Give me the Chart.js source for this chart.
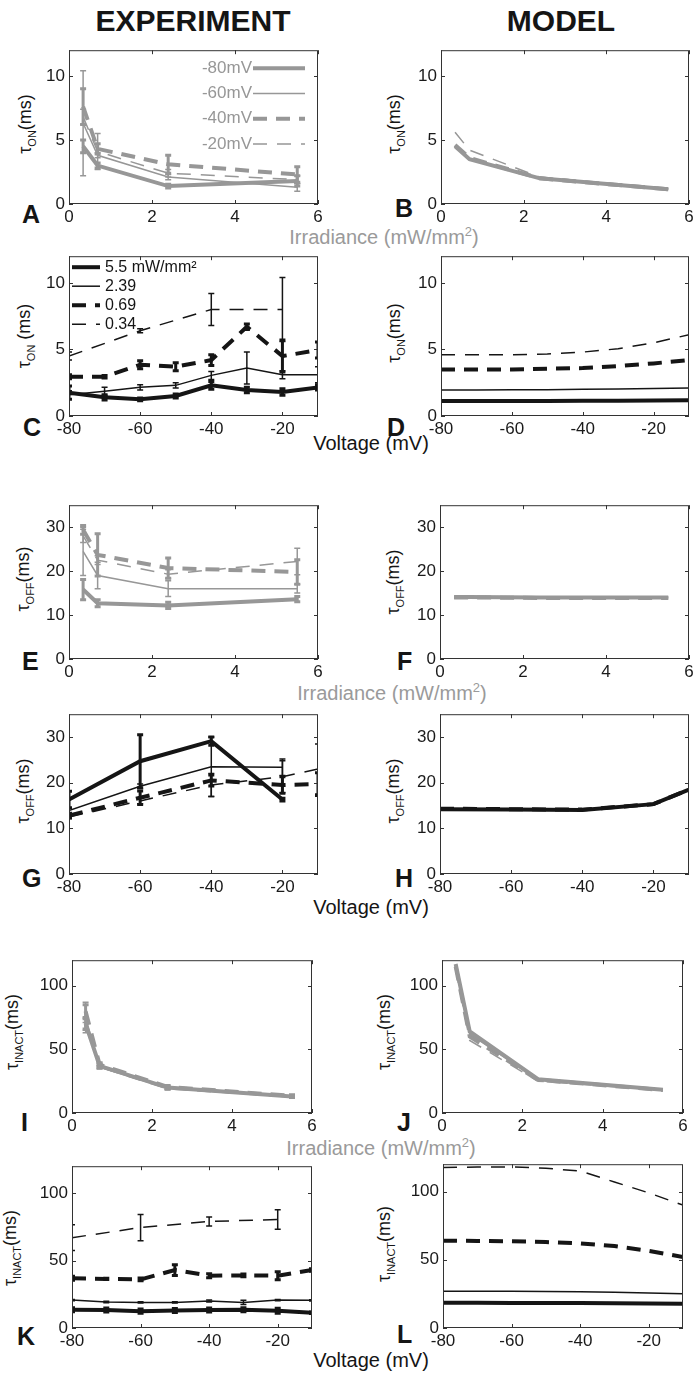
<!DOCTYPE html>
<html>
<head>
<meta charset="utf-8">
<script src="https://cdn.jsdelivr.net/npm/chart.js@4.4.1/dist/chart.umd.min.js"></script>
<style>
body{margin:0;background:#fff;width:698px;height:1376px;position:relative;overflow:hidden;font-family:'Liberation Sans',Arial,sans-serif;color:#151515}
canvas{position:absolute}
.t{position:absolute;white-space:nowrap;line-height:1}
.hd{font-weight:bold;font-size:30px;transform:translateX(-50%)}
.lt{font-weight:bold;font-size:25px}
.yt{font-size:18px;transform:translate(-50%,-50%) rotate(-90deg)}
.yt sub{font-size:11px}
.xl{font-size:20px;transform:translate(-50%,-50%)}
.gr{color:#9a9a9a}
</style>
</head>
<body>
<div class="t hd" style="left:193px;top:6px">EXPERIMENT</div>
<div class="t hd" style="left:561px;top:6px">MODEL</div>

<div class="t lt" style="left:22px;top:202px">A</div>
<div class="t lt" style="left:395px;top:196px">B</div>
<div class="t lt" style="left:23px;top:415px">C</div>
<div class="t lt" style="left:387px;top:415px">D</div>
<div class="t lt" style="left:22px;top:649px">E</div>
<div class="t lt" style="left:397px;top:649px">F</div>
<div class="t lt" style="left:22px;top:866px">G</div>
<div class="t lt" style="left:395px;top:866px">H</div>
<div class="t lt" style="left:21px;top:1110px">I</div>
<div class="t lt" style="left:397px;top:1110px">J</div>
<div class="t lt" style="left:17px;top:1324px">K</div>
<div class="t lt" style="left:397px;top:1322px">L</div>

<div class="t yt" style="left:27px;top:124px">τ<sub>ON</sub>(ms)</div>
<div class="t yt" style="left:396px;top:124px">τ<sub>ON</sub>(ms)</div>
<div class="t yt" style="left:26px;top:336px">τ<sub>ON</sub> (ms)</div>
<div class="t yt" style="left:396px;top:333px">τ<sub>ON</sub>(ms)</div>
<div class="t yt" style="left:25px;top:579px">τ<sub>OFF</sub>(ms)</div>
<div class="t yt" style="left:395px;top:582px">τ<sub>OFF</sub>(ms)</div>
<div class="t yt" style="left:25px;top:791px">τ<sub>OFF</sub>(ms)</div>
<div class="t yt" style="left:395px;top:791px">τ<sub>OFF</sub>(ms)</div>
<div class="t yt" style="left:14px;top:1032px">τ<sub>INACT</sub>(ms)</div>
<div class="t yt" style="left:386px;top:1032px">τ<sub>INACT</sub>(ms)</div>
<div class="t yt" style="left:12px;top:1248px">τ<sub>INACT</sub>(ms)</div>
<div class="t yt" style="left:386px;top:1244px">τ<sub>INACT</sub>(ms)</div>

<div class="t xl gr" style="left:384px;top:236px">Irradiance (mW/mm<sup style="font-size:13px">2</sup>)</div>
<div class="t xl gr" style="left:392px;top:692px">Irradiance (mW/mm<sup style="font-size:13px">2</sup>)</div>
<div class="t xl gr" style="left:381px;top:1147px">Irradiance (mW/mm<sup style="font-size:13px">2</sup>)</div>
<div class="t xl" style="left:371px;top:443px">Voltage (mV)</div>
<div class="t xl" style="left:371px;top:907px">Voltage (mV)</div>
<div class="t xl" style="left:371px;top:1360px">Voltage (mV)</div>

<script>
// x values
var irr = [0.34, 0.69, 2.39, 5.5];
var volt = [-80, -70, -60, -50, -40, -30, -20, -10];
var volt4 = [-80, -60, -40, -20];
var volt5 = [-80, -60, -40, -20, -10];
var irrTicks = [0, 2, 4, 6];
var voltTicks = [-80, -60, -40, -20];
var onTicks = [0, 5, 10];
var offTicks = [0, 10, 20, 30];
var inactTicks = [0, 50, 100];
var holdNames = ['-80mV', '-60mV', '-40mV', '-20mV'];
var irrNames = ['5.5 mW/mm²', '2.39', '0.69', '0.34'];

// A - tau on vs irradiance (experiment)
var aOn80 = [4.5, 3.0, 1.4, 1.8], aErr80 = [0.5, 0.2, 0.15, 0.4];
var aOn60 = [6.3, 3.8, 2.1, 1.3], aErr60 = [4.1, 0.2, 0.2, 0.3];
var aOn40 = [7.6, 4.3, 3.1, 2.3], aErr40 = [1.4, 0.4, 0.7, 0.6];
var aOn20 = [6.8, 4.1, 2.4, 1.9], aErr20 = [0.6, 1.4, 0.3, 0.3];
// B - model
var bOn80 = [4.5, 3.5, 2.0, 1.15];
var bOn60 = [4.5, 3.5, 2.0, 1.15];
var bOn40 = [4.6, 3.6, 2.0, 1.15];
var bOn20 = [5.6, 4.2, 2.1, 1.2];
// C - tau on vs voltage (experiment)
var cOn55 = [1.75, 1.4, 1.25, 1.5, 2.3, 1.95, 1.8, 2.15], cErr55 = [0.5, 0.2, 0.1, 0.15, 0.3, 0.2, 0.25, 0.2];
var cOn239 = [1.6, 1.85, 2.15, 2.3, 3.05, 3.6, 3.1, 3.1], cErr239 = [0.3, 0.3, 0.2, 0.2, 0.3, 1.2, 0.3, 0.6];
var cOn069 = [2.95, 2.95, 3.85, 3.7, 4.2, 6.7, 4.5, 4.95], cErr069 = [0.15, 0.1, 0.3, 0.3, 0.4, 0.2, 1.2, 0.6];
var cOn034 = [4.5, 6.4, 8.0, 8.0], cErr034 = [0.3, 0.15, 1.2, 2.4];
// D - model
var dOn55 = [1.12, 1.12, 1.13, 1.13, 1.14, 1.15, 1.16, 1.18];
var dOn239 = [1.95, 1.96, 1.97, 1.98, 2.0, 2.03, 2.06, 2.1];
var dOn069 = [3.5, 3.5, 3.5, 3.55, 3.6, 3.75, 3.95, 4.2];
var dOn034 = [4.6, 4.6, 4.6, 4.65, 4.8, 5.05, 5.5, 6.1];
// E - tau off vs irradiance (experiment)
var eOff80 = [15.8, 12.7, 12.2, 13.6], eErr80 = [2.3, 0.8, 0.7, 0.6];
var eOff60 = [24.5, 19.0, 16.0, 16.0], eErr60 = [5.5, 3.0, 1.8, 1.0];
var eOff40 = [29.4, 23.7, 20.7, 19.8], eErr40 = [1.0, 4.8, 2.3, 2.8];
var eOff20 = [28.0, 22.5, 19.3, 22.2], eErr20 = [1.5, 1.0, 1.0, 3.0];
// F - model
var fOff80 = [14.1, 14.1, 14.0, 14.0];
var fOff60 = [14.1, 14.1, 14.0, 14.0];
var fOff40 = [14.0, 14.0, 13.9, 13.9];
var fOff20 = [13.9, 13.9, 13.9, 13.9];
// G - tau off vs voltage (experiment)
var gOff55 = [16.3, 24.7, 29.1, 16.3], gErr55 = [1.8, 5.8, 0.9, 0.3];
var gOff239 = [13.9, 19.2, 23.5, 23.4], gErr239 = [0.5, 0.5, 6.5, 1.8];
var gOff069 = [12.8, 16.7, 20.5, 19.5, 19.7], gErr069 = [0.5, 1.5, 1.2, 1.8, 2.5];
var gOff034 = [12.5, 16.0, 19.5, 21.3, 23.0], gErr034 = [0.4, 0.6, 2.5, 3.5, 5.5];
// H - model
var hOff55 = [14.2, 14.1, 14.0, 15.3, 18.5];
var hOff239 = [14.2, 14.1, 14.0, 15.3, 18.5];
var hOff069 = [14.3, 14.2, 14.1, 15.3, 18.5];
var hOff034 = [14.3, 14.2, 14.1, 15.3, 18.5];
// I - tau inact vs irradiance (experiment)
var iIn80 = [70, 37, 20, 13], iErr80 = [4, 1.5, 1, 0.8];
var iIn60 = [75, 36, 19.5, 12.5], iErr60 = [12, 1.5, 1, 0.8];
var iIn40 = [80, 38, 20.5, 13.5], iErr40 = [5, 1.5, 1, 0.8];
var iIn20 = [68, 36, 19, 12.5], iErr20 = [3, 1, 1, 0.6];
// J - model
var jIn80 = [117, 64, 26.5, 18.3];
var jIn60 = [116, 62, 26, 18];
var jIn40 = [115, 60, 26, 18];
var jIn20 = [113, 57, 25, 18];
// K - tau inact vs voltage (experiment)
var kIn55 = [13.5, 13.3, 12.5, 13, 13.3, 13.5, 12.8, 11.3], kErr55 = [1.5, 1.5, 1.5, 1.5, 1.5, 1.5, 1.8, 0.5];
var kIn239 = [20.7, 19.3, 19, 19, 20, 19, 20.7, 20.5], kErr239 = [0.5, 0.5, 0.5, 0.5, 0.8, 1.5, 0.5, 0.5];
var kIn069 = [36.9, 36.4, 36, 43, 38.8, 39, 38.8, 43], kErr069 = [1.5, 0.5, 1.0, 4.0, 1.5, 1.0, 3.0, 1.0];
var kIn034 = [67, 74.5, 79, 80.5], kErr034 = [9.5, 9.7, 3.3, 7.2];
// L - model
var lIn55 = [18.5, 18.5, 18.4, 18.4, 18.3, 18.2, 18.0, 17.7];
var lIn239 = [27, 27, 26.9, 26.8, 26.6, 26.2, 25.7, 25];
var lIn069 = [64, 63.8, 63.5, 63, 62, 60, 56.5, 52];
var lIn034 = [117.5, 118, 118, 117, 115, 107, 99, 90];

var GREY = '#979797', INK = '#151515';
Chart.defaults.font.family = "'Liberation Sans', Arial, sans-serif";
Chart.defaults.font.size = 17;
Chart.defaults.color = '#1a1a1a';

function look(kind, color) {
    var thick = kind == 'thick' || kind == 'thickDash';
    var dash = kind == 'thickDash' ? [14, 9] : (kind == 'thinDash' ? [14, 10] : []);
    return {borderColor: color, borderWidth: thick ? 4 : 1.5, borderDash: dash};
}

function series(label, xs, ys, errs, kind, color) {
    var s = look(kind, color);
    s.label = label;
    s.data = xs.map(function (x, i) { return {x: x, y: ys[i]}; });
    s.errors = errs || null;
    s.pointRadius = 0;
    s.tension = 0;
    s.fill = false;
    return s;
}

function four(names, xs, a, b, c, d, errs, color) {
    errs = errs || [];
    return [
        series(names[0], xs[0], a, errs[0], 'thick', color),
        series(names[1], xs[1], b, errs[1], 'thin', color),
        series(names[2], xs[2], c, errs[2], 'thickDash', color),
        series(names[3], xs[3], d, errs[3], 'thinDash', color)
    ];
}

// error bars, drawn through the chart scales
var errorBars = {
    id: 'errorBars',
    afterDatasetsDraw: function (chart) {
        var ctx = chart.ctx, xs = chart.scales.x, ys = chart.scales.y, a = chart.chartArea;
        ctx.save();
        ctx.beginPath();
        ctx.rect(a.left, a.top, a.right - a.left, a.bottom - a.top);
        ctx.clip();
        chart.data.datasets.forEach(function (ds) {
            if (!ds.errors) return;
            ctx.strokeStyle = ds.borderColor;
            ctx.lineWidth = ds.borderWidth > 2 ? 3 : 1.5;
            ctx.setLineDash([]);
            ds.data.forEach(function (p, i) {
                var e = ds.errors[i];
                if (!e) return;
                var x = xs.getPixelForValue(p.x);
                var y1 = ys.getPixelForValue(p.y - e), y2 = ys.getPixelForValue(p.y + e);
                ctx.beginPath();
                ctx.moveTo(x, y1); ctx.lineTo(x, y2);
                ctx.moveTo(x - 3, y1); ctx.lineTo(x + 3, y1);
                ctx.moveTo(x - 3, y2); ctx.lineTo(x + 3, y2);
                ctx.stroke();
            });
        });
        ctx.restore();
    }
};

// matlab style box with inward ticks
var matlabBox = {
    id: 'matlabBox',
    afterDraw: function (chart) {
        var a = chart.chartArea, ctx = chart.ctx;
        ctx.save();
        ctx.strokeStyle = '#333';
        ctx.lineWidth = 1;
        ctx.setLineDash([]);
        ctx.strokeRect(a.left + 0.5, a.top + 0.5, a.right - a.left - 1, a.bottom - a.top - 1);
        ctx.beginPath();
        chart.scales.x.ticks.forEach(function (t) {
            var x = Math.round(chart.scales.x.getPixelForValue(t.value)) + 0.5;
            ctx.moveTo(x, a.bottom); ctx.lineTo(x, a.bottom - 4);
            ctx.moveTo(x, a.top); ctx.lineTo(x, a.top + 4);
        });
        chart.scales.y.ticks.forEach(function (t) {
            var y = Math.round(chart.scales.y.getPixelForValue(t.value)) + 0.5;
            ctx.moveTo(a.left, y); ctx.lineTo(a.left + 4, y);
            ctx.moveTo(a.right, y); ctx.lineTo(a.right - 4, y);
        });
        ctx.stroke();
        ctx.restore();
    }
};

// legend inside the plot area
var inLegend = {
    id: 'inLegend',
    afterDraw: function (chart, args, o) {
        if (!o || !o.show) return;
        var a = chart.chartArea, ctx = chart.ctx;
        ctx.save();
        ctx.font = o.size + "px 'Liberation Sans', Arial, sans-serif";
        ctx.textBaseline = 'middle';
        ctx.textAlign = o.align;
        chart.data.datasets.forEach(function (ds, i) {
            var y = a.top + o.top + i * o.gap;
            ctx.strokeStyle = ds.borderColor;
            ctx.lineWidth = ds.borderWidth;
            ctx.setLineDash(ds.borderDash || []);
            ctx.beginPath();
            ctx.moveTo(a.left + o.x0, y);
            ctx.lineTo(a.left + o.x1, y);
            ctx.stroke();
            ctx.fillStyle = o.color;
            ctx.fillText(ds.label, a.left + o.textX, y);
        });
        ctx.restore();
    }
};

function panel(box, xMin, xMax, xTicks, yMax, yTicks, datasets, legend) {
    var cv = document.createElement('canvas');
    cv.width = box[2] + 52;
    cv.height = box[3] + 32;
    cv.style.left = (box[0] - 40) + 'px';
    cv.style.top = (box[1] - 8) + 'px';
    document.body.appendChild(cv);
    new Chart(cv, {
        type: 'line',
        data: {datasets: datasets},
        plugins: [errorBars, matlabBox, inLegend],
        options: {
            animation: false,
            responsive: false,
            devicePixelRatio: 1,
            layout: {padding: {left: 0, top: 8, right: 12, bottom: 0}},
            plugins: {
                legend: {display: false},
                tooltip: {enabled: false},
                inLegend: legend || {show: false}
            },
            scales: {
                x: {
                    type: 'linear', min: xMin, max: xMax,
                    grid: {display: false, drawTicks: false},
                    border: {display: false},
                    ticks: {padding: 3, maxRotation: 0, font: {size: 17}},
                    afterBuildTicks: function (s) { s.ticks = xTicks.map(function (v) { return {value: v}; }); },
                    afterFit: function (s) { s.height = 24; }
                },
                y: {
                    type: 'linear', min: 0, max: yMax,
                    grid: {display: false, drawTicks: false},
                    border: {display: false},
                    ticks: {padding: 4, font: {size: 17}},
                    afterBuildTicks: function (s) { s.ticks = yTicks.map(function (v) { return {value: v}; }); },
                    afterFit: function (s) { s.width = 40; }
                }
            }
        }
    });
}

var I4 = [irr, irr, irr, irr];
var V8 = [volt, volt, volt, volt];
var legA = {show: true, x0: 184, x1: 236, textX: 183, align: 'right', top: 18, gap: 25.3, color: GREY, size: 17};
var legC = {show: true, x0: 3, x1: 31, textX: 36, align: 'left', top: 11, gap: 19, color: INK, size: 16};

panel([69, 44, 249, 160], 0, 6, irrTicks, 12, onTicks,
    four(holdNames, I4, aOn80, aOn60, aOn40, aOn20, [aErr80, aErr60, aErr40, aErr20], GREY), legA);
panel([441, 44, 248, 160], 0, 6, irrTicks, 12, onTicks,
    four(holdNames, I4, bOn80, bOn60, bOn40, bOn20, null, GREY));
panel([69, 250, 249, 166], -80, -10, voltTicks, 12, onTicks,
    four(irrNames, [volt, volt, volt, volt4], cOn55, cOn239, cOn069, cOn034, [cErr55, cErr239, cErr069, cErr034], INK), legC);
panel([441, 250, 248, 166], -80, -10, voltTicks, 12, onTicks,
    four(irrNames, V8, dOn55, dOn239, dOn069, dOn034, null, INK));
panel([69, 499, 249, 160], 0, 6, irrTicks, 35, offTicks,
    four(holdNames, I4, eOff80, eOff60, eOff40, eOff20, [eErr80, eErr60, eErr40, eErr20], GREY));
panel([440, 499, 249, 160], 0, 6, irrTicks, 35, offTicks,
    four(holdNames, I4, fOff80, fOff60, fOff40, fOff20, null, GREY));
panel([69, 708, 249, 166], -80, -10, voltTicks, 35, offTicks,
    four(irrNames, [volt4, volt4, volt5, volt5], gOff55, gOff239, gOff069, gOff034, [gErr55, gErr239, gErr069, gErr034], INK));
panel([440, 708, 249, 166], -80, -10, voltTicks, 35, offTicks,
    four(irrNames, [volt5, volt5, volt5, volt5], hOff55, hOff239, hOff069, hOff034, null, INK));
panel([72, 954, 240, 159], 0, 6, irrTicks, 120, inactTicks,
    four(holdNames, I4, iIn80, iIn60, iIn40, iIn20, [iErr80, iErr60, iErr40, iErr20], GREY));
panel([442, 954, 241, 159], 0, 6, irrTicks, 120, inactTicks,
    four(holdNames, I4, jIn80, jIn60, jIn40, jIn20, null, GREY));
panel([72, 1160, 240, 168], -80, -10, voltTicks, 120, inactTicks,
    four(irrNames, [volt, volt, volt, volt4], kIn55, kIn239, kIn069, kIn034, [kErr55, kErr239, kErr069, kErr034], INK));
panel([443, 1158, 240, 170], -80, -10, voltTicks, 120, inactTicks,
    four(irrNames, V8, lIn55, lIn239, lIn069, lIn034, null, INK));
</script>
</body>
</html>
